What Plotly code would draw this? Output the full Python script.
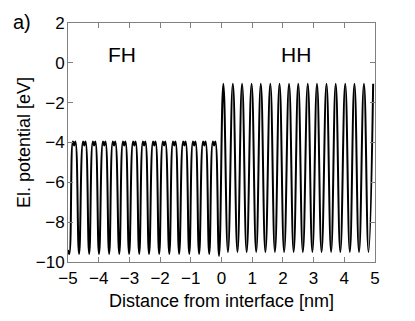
import plotly.graph_objects as go

# Extrema (distance in nm, potential in eV)
left_peak_x = [-4.80, -4.47, -4.15, -3.82, -3.50, -3.17, -2.84, -2.52, -2.19,
               -1.87, -1.54, -1.21, -0.89, -0.56, -0.24]
left_peak_y = [-3.95] * 15          # the two small humps of each flat top
left_notch_y = [-4.15] * 15         # the small dip between them
left_top_halfwidth = 0.04           # nm, half distance between the humps
left_trough_x = [-4.96, -4.64, -4.31, -3.99, -3.66, -3.33, -3.01, -2.68, -2.36,
                 -2.03, -1.70, -1.38, -1.05, -0.73, -0.40, -0.08]
left_trough_y = [-9.6] * 15 + [-9.7]
right_peak_x = [0.06, 0.37, 0.67, 0.98, 1.28, 1.59, 1.89, 2.20, 2.50, 2.81,
                3.11, 3.42, 3.72, 4.03, 4.33, 4.64, 4.94]
right_peak_y = [-1.05] * 17
right_trough_x = [0.21, 0.52, 0.82, 1.13, 1.43, 1.74, 2.04, 2.35, 2.65, 2.96,
                  3.26, 3.57, 3.87, 4.18, 4.48, 4.79]
right_trough_y = [-9.5] * 16
edge_x = [-5.0]
edge_y = [-9.4]

pts = []
for x, yp, yn in zip(left_peak_x, left_peak_y, left_notch_y):
    pts += [(x - left_top_halfwidth, yp), (x, yn), (x + left_top_halfwidth, yp)]
pts += list(zip(left_trough_x, left_trough_y))
pts += list(zip(right_peak_x, right_peak_y)) + list(zip(right_trough_x, right_trough_y))
pts += list(zip(edge_x, edge_y))
pts.sort()
xs = [p[0] for p in pts]
ys = [p[1] for p in pts]

x_ticks = [-5, -4, -3, -2, -1, 0, 1, 2, 3, 4, 5]
y_ticks = [-10, -8, -6, -4, -2, 0, 2]

FAM = "Liberation Sans, Arial, sans-serif"

fig = go.Figure()
fig.add_trace(go.Scatter(x=xs, y=ys, mode="lines",
                         line=dict(color="black", width=2, shape="spline", smoothing=1.3),
                         hoverinfo="skip", showlegend=False))

tick_font = dict(family=FAM, size=17, color="black")
title_font = dict(family=FAM, size=18, color="black")
axis_common = dict(showgrid=False, zeroline=False, showline=True, linecolor="#808080",
                   linewidth=1, mirror="ticks", ticks="inside", ticklen=5,
                   tickcolor="#808080", tickfont=tick_font)

fig.update_layout(
    width=415, height=321,
    margin=dict(l=68, r=40, t=23, b=59),
    paper_bgcolor="white", plot_bgcolor="white",
    font=tick_font,
    hovermode=False,
    xaxis=dict(range=[-5, 5], tickvals=x_ticks, ticklabelstandoff=1,
               title=dict(text="Distance from interface [nm]", font=title_font, standoff=6),
               **axis_common),
    yaxis=dict(range=[-10, 2], tickvals=y_ticks, ticklabelstandoff=-1,
               title=dict(text="El. potential [eV]", font=title_font, standoff=0),
               **axis_common),
    annotations=[
        dict(x=-3.24, y=0.4, xref="x", yref="y", text="FH", showarrow=False,
             font=dict(family=FAM, size=21, color="black")),
        dict(x=2.43, y=0.4, xref="x", yref="y", text="HH", showarrow=False,
             font=dict(family=FAM, size=21, color="black")),
        dict(x=(22 - 68) / 307, y=1 + (23 - 22) / 239, xref="paper", yref="paper",
             xanchor="center", yanchor="middle", text="a)", showarrow=False,
             font=dict(family=FAM, size=20, color="black")),
    ],
)

fig.write_html("out.html", config={"displayModeBar": False},
               post_script="document.body.style.margin='0px';")
